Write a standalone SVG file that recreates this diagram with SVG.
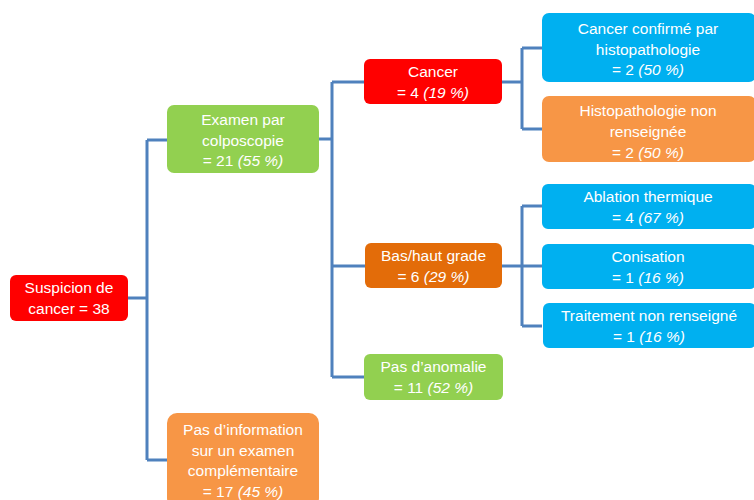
<svg xmlns="http://www.w3.org/2000/svg" width="754" height="500" viewBox="0 0 754 500">
<style>
.t{font-family:"Liberation Sans",Arial,sans-serif;font-size:15.5px;fill:#fff;text-anchor:middle}
.i{font-style:italic}
.c{fill:none;stroke:#4F81BD;stroke-width:3}
</style>
<rect width="754" height="500" fill="#fff"/>
<g id="connectors">
<path class="c" d="M128 298H147M147 140V460M147 140H168M147 460H168"/>
<path class="c" d="M319 139H332M332 82V377M332 82H365M332 266H365M332 377H365"/>
<path class="c" d="M502 82H522M522 48V129M522 48H542M522 129H542"/>
<path class="c" d="M502 266H522M522 206V326M522 206H542M522 266H542M522 326H542"/>
</g>
<g id="root">
<rect x="10" y="275" width="118" height="46" rx="6" fill="#FF0000"/>
<text class="t" x="69" y="293">Suspicion de</text>
<text class="t" x="69" y="314">cancer = 38</text>
</g>
<g id="colposcopie">
<rect x="167" y="105" width="152" height="68" rx="7" fill="#92D050"/>
<text class="t" x="243" y="125">Examen par</text>
<text class="t" x="243" y="145.5">colposcopie</text>
<text class="t" x="243" y="166">= 21 <tspan class="i">(55 %)</tspan></text>
</g>
<g id="pasinfo">
<rect x="167" y="413" width="152" height="95" rx="10" fill="#F79646"/>
<text class="t" x="243" y="434.5">Pas d’information</text>
<text class="t" x="243" y="455.5">sur un examen</text>
<text class="t" x="243" y="476">complémentaire</text>
<text class="t" x="243" y="496.5">= 17 <tspan class="i">(45 %)</tspan></text>
</g>
<g id="cancer">
<rect x="364" y="59" width="138" height="45" rx="6" fill="#FF0000"/>
<text class="t" x="433" y="77">Cancer</text>
<text class="t" x="433" y="98">= 4 <tspan class="i">(19 %)</tspan></text>
</g>
<g id="grade">
<rect x="365" y="243" width="137" height="45" rx="6" fill="#E36C09"/>
<text class="t" x="433.5" y="261">Bas/haut grade</text>
<text class="t" x="433.5" y="282">= 6 <tspan class="i">(29 %)</tspan></text>
</g>
<g id="anomalie">
<rect x="364" y="354" width="139" height="46" rx="6" fill="#92D050"/>
<text class="t" x="433.5" y="372">Pas d’anomalie</text>
<text class="t" x="433.5" y="393">= 11 <tspan class="i">(52 %)</tspan></text>
</g>
<g id="histo">
<rect x="542" y="13" width="214" height="69" rx="7" fill="#00B0F0"/>
<text class="t" x="648" y="33.5">Cancer confirmé par</text>
<text class="t" x="648" y="54.5">histopathologie</text>
<text class="t" x="648" y="75">= 2 <tspan class="i">(50 %)</tspan></text>
</g>
<g id="histonon">
<rect x="542" y="96" width="214" height="66" rx="7" fill="#F79646"/>
<text class="t" x="648" y="115.5">Histopathologie non</text>
<text class="t" x="648" y="137">renseignée</text>
<text class="t" x="648" y="157.5">= 2 <tspan class="i">(50 %)</tspan></text>
</g>
<g id="ablation">
<rect x="542" y="184" width="214" height="45" rx="6" fill="#00B0F0"/>
<text class="t" x="648" y="202">Ablation thermique</text>
<text class="t" x="648" y="223">= 4 <tspan class="i">(67 %)</tspan></text>
</g>
<g id="conisation">
<rect x="542" y="244" width="214" height="45" rx="6" fill="#00B0F0"/>
<text class="t" x="648" y="262">Conisation</text>
<text class="t" x="648" y="283">= 1 <tspan class="i">(16 %)</tspan></text>
</g>
<g id="traitement">
<rect x="543" y="303" width="213" height="45" rx="6" fill="#00B0F0"/>
<text class="t" x="649" y="321">Traitement non renseigné</text>
<text class="t" x="649" y="342">= 1 <tspan class="i">(16 %)</tspan></text>
</g>
</svg>
